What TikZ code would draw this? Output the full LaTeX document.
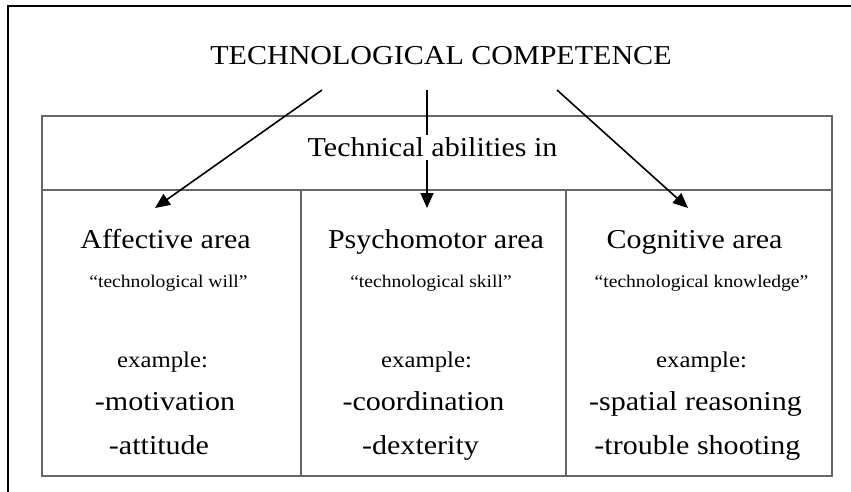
\documentclass[tikz,border=0pt]{standalone}
\usepackage{fontspec}
\setmainfont[FakeStretch=1.1]{Liberation Serif}
\usetikzlibrary{arrows.meta}

\tikzset{
  big/.style={anchor=base, inner sep=1pt, font=\fontsize{27.3}{32}\selectfont},
  quot/.style={anchor=base, inner sep=1pt, font=\fontsize{17.8}{21}\selectfont},
  ex/.style={anchor=base, inner sep=1pt, font=\fontsize{22.5}{26}\selectfont},
  tbl/.style={draw=black!60, line width=1.1pt},
  arr/.style={line width=1.6pt, -{Triangle[length=15pt,width=13pt]}}
}

\begin{document}
\begin{tikzpicture}[x=1pt, y=-1pt]
  \useasboundingbox (0,0) rectangle (851,492);

    %%frame
    \draw[line width=1.6pt](8, 492) -- (8, 6) -- (851, 6);

    %%title
    \node[big] (title) at (441, 65) {TECHNOLOGICAL COMPETENCE};

    %%table
    \draw[tbl](42, 116) rectangle (832, 476);
    \draw[tbl](42, 190) -- (832, 190);
    \draw[tbl](301, 190) -- (301, 476);
    \draw[tbl](566, 190) -- (566, 476);

    %%arrows
    \coordinate (s1) at (322, 90);
    \coordinate (s2) at (427, 90);
    \coordinate (s3) at (557, 90);
    \coordinate (e1) at (155, 208);
    \coordinate (e2) at (427, 208);
    \coordinate (e3) at (688, 208);
    \draw[arr](s1) -- (e1);
    \draw[arr](s2) -- (e2);
    \draw[arr](s3) -- (e3);

    %%header
    \node[big, fill=white, inner xsep=0pt, inner ysep=3pt] (abil) at (432.5, 157) {Technical abilities in};

      %%col 1
      \node[big] (affect) at (165.5, 248) {Affective area};
      \node[quot] (will) at (168.5, 287) {“technological will”};
      \node[ex] (ex1) at (162.5, 367) {example:};
      \node[big] (motiv) at (165, 410) {-motivation};
      \node[big] (attit) at (159, 454) {-attitude};

      %%col 2
      \node[big] (psycho) at (436, 248) {Psychomotor area};
      \node[quot] (skill) at (431, 287) {“technological skill”};
      \node[ex] (ex2) at (426.5, 367) {example:};
      \node[big] (coord) at (423.5, 410) {-coordination};
      \node[big] (dext) at (420.5, 454) {-dexterity};

      %%col 3
      \node[big] (cogn) at (694.5, 248) {Cognitive area};
      \node[quot] (know) at (701.5, 287) {“technological knowledge”};
      \node[ex] (ex3) at (701.5, 367) {example:};
      \node[big] (spat) at (695.5, 410) {-spatial reasoning};
      \node[big] (troub) at (697.5, 454) {-trouble shooting};

\end{tikzpicture}
\end{document}
